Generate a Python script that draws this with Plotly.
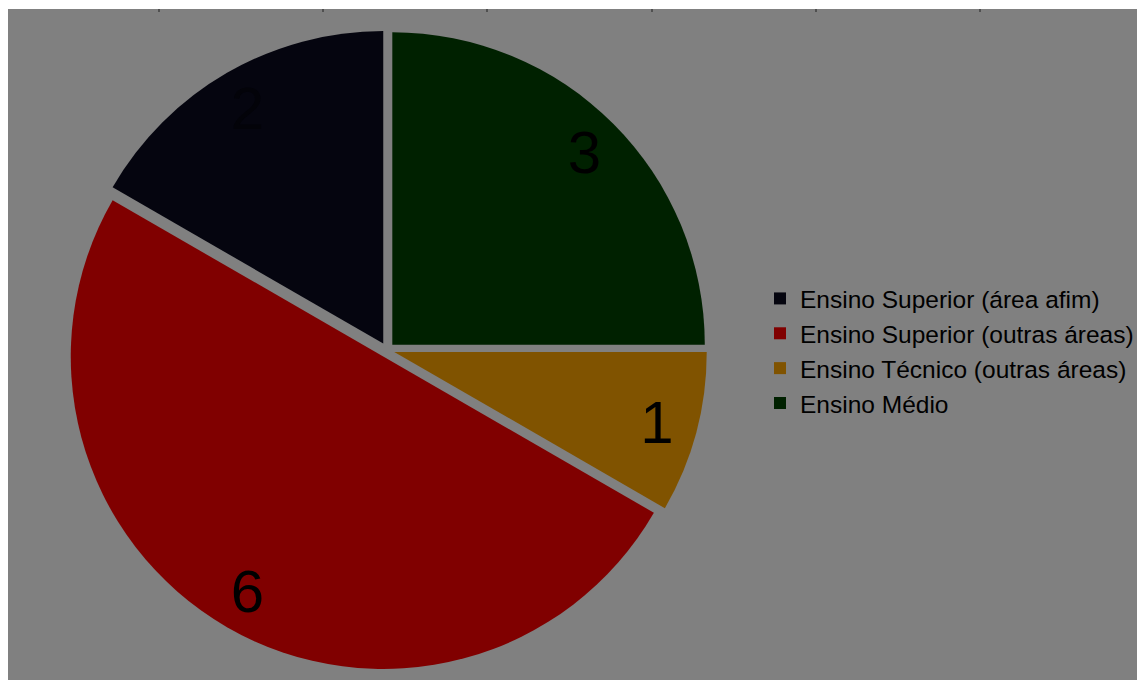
import plotly.graph_objects as go

W, H = 1137, 680

categories = [
    "Ensino Superior (área afim)",
    "Ensino Superior (outras áreas)",
    "Ensino Técnico (outras áreas)",
    "Ensino Médio",
]
values = [2, 6, 1, 3]
colors = ["#05050f", "#800000", "#805300", "#002100"]
label_colors = ["#030309", "#000000", "#000000", "#000000"]

# counterclockwise order, first slice ending at 12 o'clock
rotation = -360.0 * values[0] / sum(values)

pull = 0.024
cx_px, cy_px, R_px = 387, 350, 320
dom_x = [(cx_px - R_px) / W, (cx_px + R_px) / W]
dom_y = [(H - cy_px - R_px) / H, (H - cy_px + R_px) / H]

fig = go.Figure()

# main pie (slices + legend)
fig.add_trace(go.Pie(
    labels=categories, values=values, sort=False,
    direction="counterclockwise", rotation=rotation,
    marker=dict(colors=colors, line=dict(width=0)),
    pull=[pull] * len(values),
    textinfo="none", hoverinfo="label+value",
    domain=dict(x=dom_x, y=dom_y),
    showlegend=True,
))

# transparent ring used only to place value labels near the rim
fig.add_trace(go.Pie(
    labels=categories, values=values, sort=False,
    direction="counterclockwise", rotation=rotation,
    marker=dict(colors=["rgba(0,0,0,0)"] * len(values), line=dict(width=0)),
    pull=[pull] * len(values), hole=0.74,
    textinfo="value", textposition="inside",
    insidetextorientation="horizontal",
    insidetextfont=dict(family="Liberation Sans, Arial, sans-serif", size=60, color=label_colors),
    hoverinfo="skip",
    domain=dict(x=dom_x, y=dom_y),
    showlegend=False,
))

shapes = [
    dict(type="rect", xref="paper", yref="paper", x0=0, x1=1, y0=(H - 9) / H, y1=1,
         fillcolor="white", line=dict(width=0), layer="above"),
    dict(type="rect", xref="paper", yref="paper", x0=0, x1=8 / W, y0=0, y1=1,
         fillcolor="white", line=dict(width=0), layer="above"),
]
for tx in [159, 323, 487, 652, 816, 980]:
    shapes.append(dict(type="line", xref="paper", yref="paper",
                       x0=tx / W, x1=tx / W, y0=(H - 9) / H, y1=(H - 12) / H,
                       line=dict(color="#404040", width=1.5), layer="above"))

fig.update_layout(
    width=W, height=H,
    margin=dict(l=0, r=0, t=0, b=0, autoexpand=False),
    paper_bgcolor="#808080",
    plot_bgcolor="#808080",
    font=dict(family="Liberation Sans, Arial, sans-serif", color="#000000"),
    legend=dict(
        x=760 / W, xanchor="left",
        y=(H - 351) / H, yanchor="middle",
        font=dict(size=24.5, color="#000000"),
        bgcolor="rgba(0,0,0,0)", borderwidth=0,
        traceorder="normal",
    ),
    shapes=shapes,
)

fig.write_html("out.html")
